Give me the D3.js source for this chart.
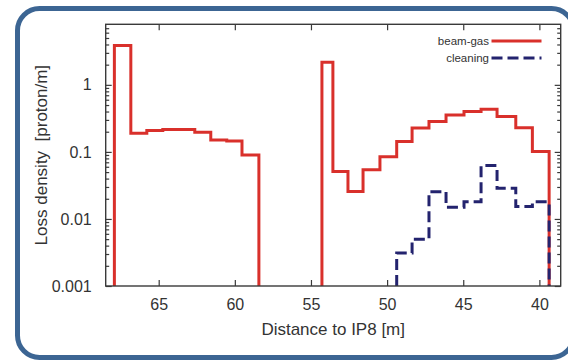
<!DOCTYPE html>
<html>
<head>
<meta charset="utf-8">
<script src="https://cdn.jsdelivr.net/npm/d3@7"></script>
<style>
  html, body { margin: 0; padding: 0; background: #fff; }
  svg { display: block; font-family: "Liberation Sans", Arial, sans-serif; }
  .tick text { fill: #333; }
</style>
</head>
<body>
<div id="chart"></div>
<script>
// beam-gas, first block (distance edges in m, values in proton/m)
const beamGasEdgesA = [67.91, 66.83, 65.78, 64.73, 63.68, 62.63, 61.58, 60.53, 59.53, 58.42];
const beamGasValuesA = [3.86, 0.19, 0.208, 0.215, 0.216, 0.197, 0.151, 0.146, 0.09];

// beam-gas, second block
const beamGasEdgesB = [54.28, 53.56, 52.57, 51.58, 50.47, 49.37, 48.36, 47.25, 46.13, 44.95, 43.83, 42.78, 41.55, 40.46, 39.36];
const beamGasValuesB = [2.18, 0.051, 0.0256, 0.054, 0.085, 0.143, 0.227, 0.283, 0.356, 0.4, 0.434, 0.336, 0.23, 0.101];

// cleaning
const cleaningEdges = [49.37, 48.36, 47.25, 46.13, 44.95, 43.83, 42.78, 41.55, 40.46, 39.36];
const cleaningValues = [0.0031, 0.005, 0.0255, 0.015, 0.018, 0.0625, 0.0287, 0.0153, 0.018];

const xTicks = [65, 60, 55, 50, 45, 40];
const yTicks = [0.001, 0.01, 0.1, 1];
const yTickLabels = ["0.001", "0.01", "0.1", "1"];
const seriesNames = ["beam-gas", "cleaning"];

const W = 568, H = 360;
const plotL = 105.7, plotR = 560.7, plotT = 24.3, plotB = 286;
const red = "#d9302b", blue = "#23236e", axisColor = "#3a3a3a";

const svg = d3.select("#chart").append("svg").attr("width", W).attr("height", H);

const x = d3.scaleLinear().domain([68.48, 38.6]).range([plotL, plotR]);
const y = d3.scaleLog().domain([0.001, 8]).range([plotB, plotT]);
const yMin = y.domain()[0];

// outer rounded frame (right side runs just past the picture edge)
svg.append("rect")
  .attr("x", 17.5).attr("y", 8.5)
  .attr("width", 556).attr("height", 349)
  .attr("rx", 22).attr("ry", 22)
  .attr("fill", "#fff")
  .attr("stroke", "#3c6593")
  .attr("stroke-width", 5);

svg.append("clipPath").attr("id", "plot-clip")
  .append("rect").attr("x", plotL).attr("y", plotT).attr("width", plotR - plotL).attr("height", plotB - plotT);

function stepPoints(edges, values) {
  const pts = [[edges[0], yMin]];
  values.forEach((v, i) => {
    pts.push([edges[i], v]);
    pts.push([edges[i + 1], v]);
  });
  pts.push([edges[edges.length - 1], yMin]);
  return pts;
}

const line = d3.line().x((d) => x(d[0])).y((d) => y(d[1]));
const plot = svg.append("g").attr("clip-path", "url(#plot-clip)");

[[beamGasEdgesA, beamGasValuesA], [beamGasEdgesB, beamGasValuesB]].forEach(([e, v]) => {
  plot.append("path")
    .attr("d", line(stepPoints(e, v)))
    .attr("fill", "none")
    .attr("stroke", red)
    .attr("stroke-width", 3)
    .attr("stroke-linejoin", "miter");
});

plot.append("path")
  .attr("d", line(stepPoints(cleaningEdges, cleaningValues)))
  .attr("fill", "none")
  .attr("stroke", blue)
  .attr("stroke-width", 3)
  .attr("stroke-dasharray", "11,5");

// axes (ticks inward, mirrored)
const fontSize = 16;
svg.append("g").attr("transform", `translate(0,${plotB})`)
  .call(d3.axisBottom(x).tickValues(xTicks).tickFormat(d3.format("d")).tickSizeInner(-6).tickSizeOuter(0).tickPadding(13));
svg.append("g").attr("transform", `translate(0,${plotT})`)
  .call(d3.axisTop(x).tickValues(xTicks).tickFormat("").tickSizeInner(-6).tickSizeOuter(0));

svg.append("g").attr("transform", `translate(${plotL},0)`)
  .call(d3.axisLeft(y).tickValues(yTicks).tickFormat((d, i) => yTickLabels[i]).tickSizeInner(-6).tickSizeOuter(0).tickPadding(14));
svg.append("g").attr("transform", `translate(${plotR},0)`)
  .call(d3.axisRight(y).tickValues(yTicks).tickFormat("").tickSizeInner(-6).tickSizeOuter(0));

// minor log ticks
const minor = [];
for (let p = -3; p <= 0; p++) {
  for (let m = 2; m <= 9; m++) {
    const v = m * Math.pow(10, p);
    if (v < y.domain()[1]) minor.push(v);
  }
}
svg.append("g").attr("transform", `translate(${plotL},0)`)
  .call(d3.axisLeft(y).tickValues(minor).tickFormat("").tickSizeInner(-3.5).tickSizeOuter(0));
svg.append("g").attr("transform", `translate(${plotR},0)`)
  .call(d3.axisRight(y).tickValues(minor).tickFormat("").tickSizeInner(-3.5).tickSizeOuter(0));

svg.selectAll(".domain").remove();
svg.selectAll(".tick line").attr("stroke", axisColor).attr("stroke-width", 1.2);
svg.selectAll(".tick text").attr("font-size", fontSize).attr("font-family", "Liberation Sans, Arial, sans-serif");

svg.append("rect")
  .attr("x", plotL).attr("y", plotT)
  .attr("width", plotR - plotL).attr("height", plotB - plotT)
  .attr("fill", "none")
  .attr("stroke", axisColor)
  .attr("stroke-width", 1.4);

// axis titles
svg.append("text")
  .attr("x", (plotL + plotR) / 2).attr("y", 335)
  .attr("text-anchor", "middle")
  .attr("font-size", 17)
  .attr("fill", "#333")
  .text("Distance to IP8 [m]");

svg.append("text")
  .attr("transform", `translate(47,${(plotT + plotB) / 2}) rotate(-90)`)
  .attr("text-anchor", "middle")
  .attr("font-size", 17)
  .attr("fill", "#333")
  .style("white-space", "pre")
  .text("Loss density  [proton/m]");

// legend
const legend = svg.append("g");
seriesNames.forEach((name, i) => {
  const ly = 41 + i * 17;
  legend.append("text")
    .attr("x", 489).attr("y", ly + 4)
    .attr("text-anchor", "end")
    .attr("font-size", 11.5)
    .attr("fill", "#333")
    .text(name);
  legend.append("line")
    .attr("x1", 491.5).attr("x2", 541.5)
    .attr("y1", ly).attr("y2", ly)
    .attr("stroke", i === 0 ? red : blue)
    .attr("stroke-width", 3)
    .attr("stroke-dasharray", i === 0 ? null : "11,5");
});
</script>
</body>
</html>
